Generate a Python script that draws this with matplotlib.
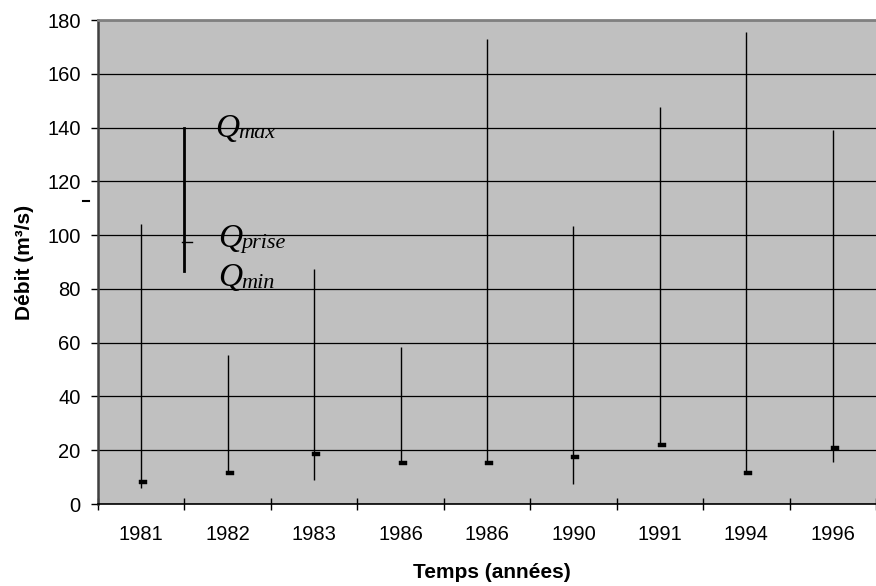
import matplotlib
matplotlib.use('Agg')
import matplotlib.pyplot as plt
import numpy as np

plt.rcParams['font.family'] = ['Liberation Sans', 'DejaVu Sans']

# ---- data ----
categories = ['1981', '1982', '1983', '1986', '1986', '1990', '1991', '1994', '1996']
q_max = [104, 55.5, 87.5, 58.5, 173, 103.5, 147.5, 175.5, 139]
q_min = [6, 11.6, 9, 15, 15, 7.3, 22, 11.6, 15.7]
q_prise = [8, 11.6, 18.6, 15.1, 15.1, 17.6, 21.9, 11.6, 20.9]
y_ticks = [0, 20, 40, 60, 80, 100, 120, 140, 160, 180]

# legend sample (drawn inside the plot)
legend_max = 140
legend_min = 86.7
legend_prise = 97.5
legend_labels = ['max', 'prise', 'min']

fig = plt.figure(figsize=(8.76, 5.86), dpi=100)
ax = fig.add_axes([98 / 876, 1 - 504 / 586, 1 - 98 / 876, (504 - 20) / 586])
ax.set_facecolor('#C0C0C0')

n = len(categories)
x = np.arange(n)
ax.set_xlim(-0.5, n - 0.5)
ax.set_ylim(0, 180)

ax.set_yticks(y_ticks)
ax.yaxis.grid(True, color='black', lw=0.9)
ax.set_axisbelow(True)

# high-low lines
ax.vlines(x, q_min, q_max, color='black', lw=1, zorder=3)
# close markers (short dash to the right)
verts = [(-0.3, -0.3), (1, -0.3), (1, 0.3), (-0.3, 0.3), (-0.3, -0.3)]
ax.plot(x, q_prise, linestyle='none', marker=verts, markersize=8,
        color='black', markeredgewidth=0.3, zorder=4)

# legend sample
ax.plot([0.5, 0.5], [legend_min, legend_max], color='black', lw=2, zorder=4)
ax.plot([0.477, 0.592], [legend_prise, legend_prise], color='black', lw=1, zorder=4)
legend_pos = [(0.853, 136.6), (0.887, 95.6), (0.887, 80.9)]
for (lx, ly), sub in zip(legend_pos, legend_labels):
    ax.text(lx, ly, 'Q', fontsize=24, family='Liberation Serif', fontstyle='italic',
            va='baseline', ha='left', zorder=5)
    ax.annotate(sub, xy=(lx, ly), xycoords='data', xytext=(17.0, -1.0),
                textcoords='offset points', fontsize=16, family='Liberation Serif',
                fontstyle='italic', va='baseline', ha='left', zorder=5)
# stray dash left of axis
ax.plot([-0.673, -0.604], [112.6, 112.6], color='black', lw=1.5, clip_on=False)

# spines
ax.spines['right'].set_visible(False)
ax.spines['top'].set_color('#808080')
ax.spines['top'].set_linewidth(2)
ax.spines['left'].set_color('#404040')
ax.spines['left'].set_linewidth(1.8)
ax.spines['bottom'].set_color('black')
ax.spines['bottom'].set_linewidth(1.2)

# ticks
ax.set_xticks(x)
ax.set_xticklabels(categories)
ax.set_xticks(np.arange(n + 1) - 0.5, minor=True)
ax.tick_params(axis='x', which='major', length=0, pad=15, labelsize=14.5)
ax.tick_params(axis='x', which='minor', direction='inout', length=9, width=1, color='black')
ax.tick_params(axis='y', direction='out', length=5, width=1, color='black', pad=7.5, labelsize=14.5)

fig.text(492 / 876, 1 - 572 / 586, 'Temps (années)', fontsize=15, fontweight='bold',
         ha='center', va='center')
fig.text(24 / 876, 1 - 262 / 586, 'Débit (m³/s)', fontsize=15, fontweight='bold',
         ha='center', va='center', rotation=90)

fig.savefig('out.png', dpi=100)
